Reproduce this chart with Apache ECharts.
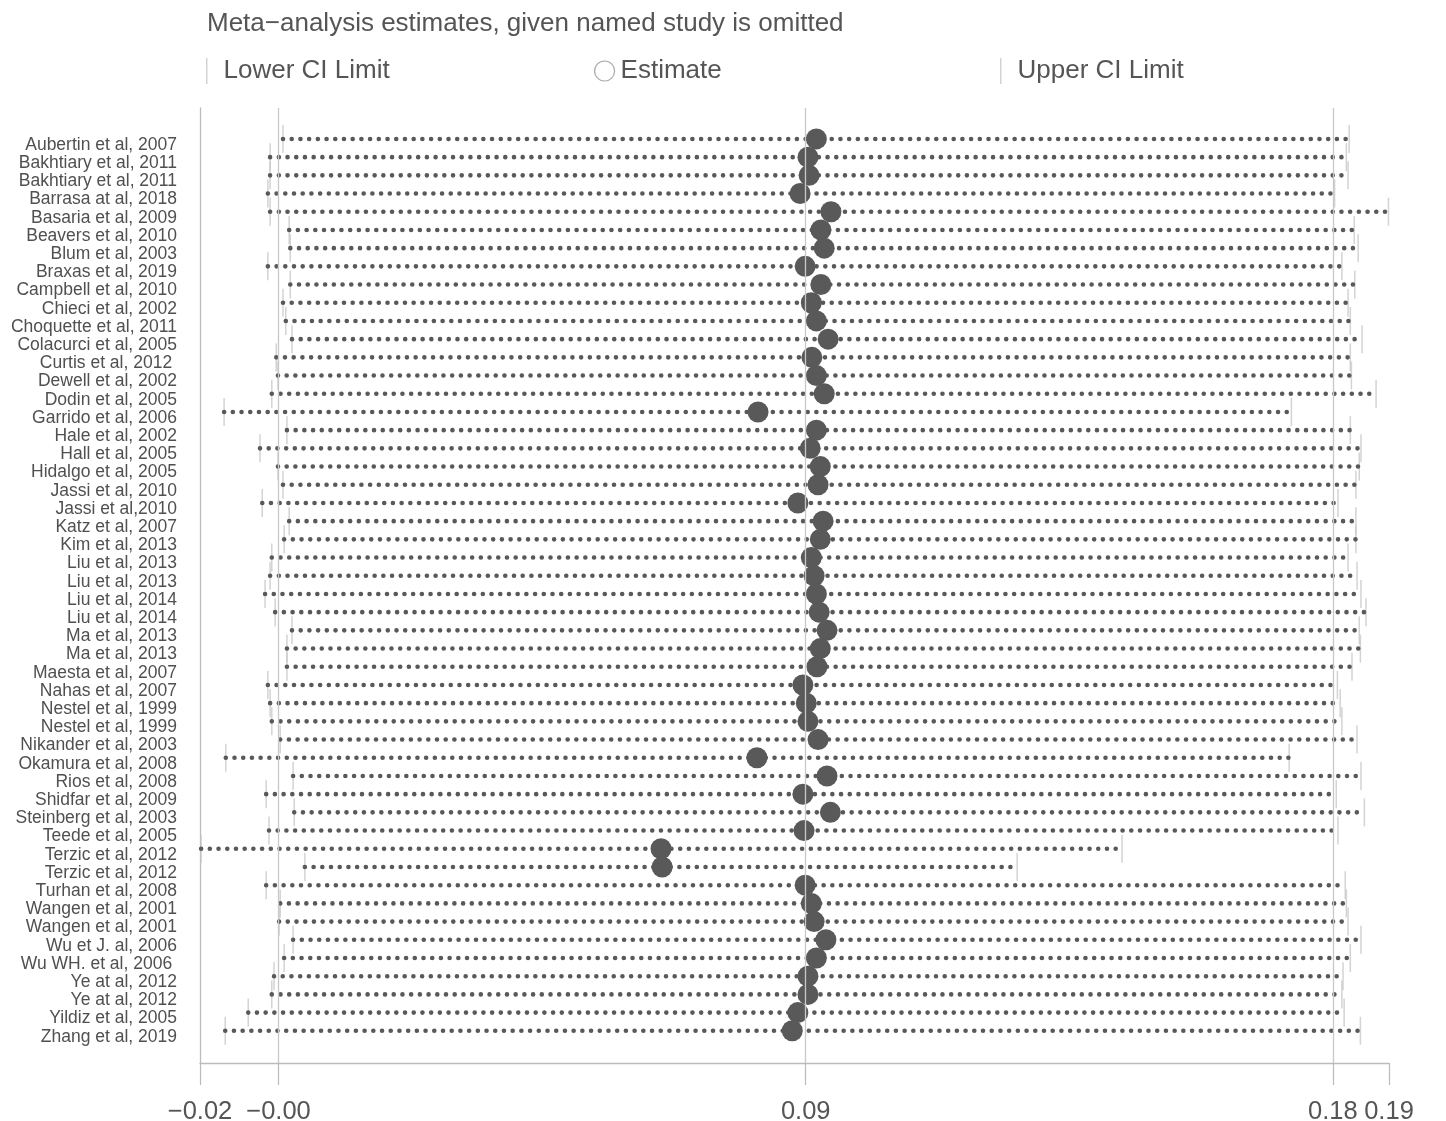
<!DOCTYPE html>
<html>
<head>
<meta charset="utf-8">
<script src="https://cdn.jsdelivr.net/npm/echarts@6/dist/echarts.min.js"></script>
<style>
html,body{margin:0;padding:0;background:#fff;}
#chart{width:1446px;height:1121px;}
</style>
</head>
<body>
<div id="chart"></div>
<script>
// ---- data ----
const studies = [
  "Aubertin et al, 2007","Bakhtiary et al, 2011","Bakhtiary et al, 2011","Barrasa at al, 2018",
  "Basaria et al, 2009","Beavers et al, 2010","Blum et al, 2003","Braxas et al, 2019",
  "Campbell et al, 2010","Chieci et al, 2002","Choquette et al, 2011","Colacurci et al, 2005",
  "Curtis et al, 2012 ","Dewell et al, 2002","Dodin et al, 2005","Garrido et al, 2006",
  "Hale et al, 2002","Hall et al, 2005","Hidalgo et al, 2005","Jassi et al, 2010",
  "Jassi et al,2010","Katz et al, 2007","Kim et al, 2013","Liu et al, 2013",
  "Liu et al, 2013","Liu et al, 2014","Liu et al, 2014","Ma et al, 2013",
  "Ma et al, 2013","Maesta et al, 2007","Nahas et al, 2007","Nestel et al, 1999",
  "Nestel et al, 1999","Nikander et al, 2003","Okamura et al, 2008","Rios et al, 2008",
  "Shidfar et al, 2009","Steinberg et al, 2003","Teede et al, 2005","Terzic et al, 2012",
  "Terzic et al, 2012","Turhan et al, 2008","Wangen et al, 2001","Wangen et al, 2001",
  "Wu et J. al, 2006","Wu WH. et al, 2006 ","Ye at al, 2012","Ye at al, 2012",
  "Yildiz et al, 2005","Zhang et al, 2019"
];
const estimate = [
  0.0919,0.0904,0.0906,0.0890,0.0945,0.0927,0.0933,0.0899,
  0.0927,0.0910,0.0919,0.0940,0.0911,0.0919,0.0933,0.0815,
  0.0919,0.0908,0.0926,0.0922,0.0886,0.0931,0.0926,0.0910,
  0.0915,0.0919,0.0924,0.0938,0.0926,0.0920,0.0895,0.0901,
  0.0904,0.0922,0.0813,0.0938,0.0895,0.0944,0.0897,0.0642,
  0.0644,0.0899,0.0910,0.0915,0.0936,0.0919,0.0904,0.0904,
  0.0886,0.0876
];
const lowerCI = [
  -0.0032,-0.0055,-0.0055,-0.0059,-0.0055,-0.0021,-0.0019,-0.0059,
  -0.0019,-0.0032,-0.0027,-0.0016,-0.0044,-0.0041,-0.0052,-0.0137,
  -0.0025,-0.0073,-0.0041,-0.0032,-0.0069,-0.0021,-0.0030,-0.0052,
  -0.0055,-0.0064,-0.0046,-0.0016,-0.0025,-0.0025,-0.0059,-0.0055,
  -0.0052,-0.0037,-0.0134,-0.0014,-0.0062,-0.0012,-0.0057,-0.0178,
  0.0007,-0.0062,-0.0037,-0.0039,-0.0014,-0.0030,-0.0048,-0.0052,
  -0.0094,-0.0135
];
const upperCI = [
  0.1869,0.1864,0.1867,0.1843,0.1939,0.1878,0.1885,0.1856,
  0.1879,0.1867,0.1871,0.1892,0.1871,0.1873,0.1917,0.1766,
  0.1871,0.1890,0.1887,0.1881,0.1849,0.1881,0.1881,0.1867,
  0.1883,0.1890,0.1899,0.1887,0.1889,0.1874,0.1848,0.1853,
  0.1856,0.1883,0.1762,0.1890,0.1846,0.1896,0.1849,0.1464,
  0.1277,0.1862,0.1864,0.1867,0.1890,0.1871,0.1858,0.1856,
  0.1860,0.1889
];
// overall pooled values (vertical reference lines) and axis ticks
const pooled = [-0.004, 0.090, 0.184];
const tickValues = [-0.018, -0.004, 0.090, 0.184, 0.194];
const tickLabels = ["\u22120.02", "\u22120.00", "0.09", "0.18", "0.19"];
const titleText = "Meta\u2212analysis estimates, given named study is omitted";

// ---- chart ----
const rowIdx = studies.map((_, i) => i);
const segData = rowIdx.map(i => [lowerCI[i], upperCI[i], i]);
const lowData = rowIdx.map(i => [lowerCI[i], i]);
const upData = rowIdx.map(i => [upperCI[i], i]);
const estData = rowIdx.map(i => [estimate[i], i]);

const textCol = '#555555';
const markCol = '#595959';
const lightCol = '#c8c8c8';
const FONT = 'Liberation Sans, Arial, sans-serif';

const chart = echarts.init(document.getElementById('chart'), null, {renderer: 'canvas'});
chart.setOption({
  backgroundColor: '#ffffff',
  animation: false,
  textStyle: {fontFamily: FONT},
  title: {
    text: titleText, left: 207, top: 11, padding: 0,
    textStyle: {fontSize: 26, fontWeight: 'normal', color: textCol, fontFamily: FONT}
  },
  legend: [
    {data: [{name: 'Lower CI Limit', icon: 'rect'}], left: 206, top: 58, padding: 0,
     itemWidth: 1.5, itemHeight: 26,
     textStyle: {fontSize: 26, color: textCol, padding: [0, 0, 0, 11], fontFamily: FONT}},
    {data: [{name: 'Estimate', icon: 'circle', itemStyle: {color: '#ffffff', borderColor: '#aaaaaa', borderWidth: 1.2}}],
     left: 594, top: 58, padding: 0, itemWidth: 20, itemHeight: 20,
     textStyle: {fontSize: 26, color: textCol, padding: [0, 0, 0, 1], fontFamily: FONT}},
    {data: [{name: 'Upper CI Limit', icon: 'rect'}], left: 1000, top: 58, padding: 0,
     itemWidth: 1.5, itemHeight: 26,
     textStyle: {fontSize: 26, color: textCol, padding: [0, 0, 0, 11], fontFamily: FONT}}
  ],
  grid: {left: 200, right: 57, top: 108, bottom: 58, containLabel: false, outerBoundsMode: 'none'},
  xAxis: {
    type: 'value', min: tickValues[0], max: tickValues[tickValues.length - 1],
    axisLine: {show: true, onZero: false, lineStyle: {color: '#bbbbbb', width: 1.3}},
    axisTick: {show: true, customValues: tickValues, length: 22, lineStyle: {color: '#bbbbbb', width: 1.2}},
    axisLabel: {
      show: true, customValues: tickValues, margin: 36, fontSize: 25.5, color: textCol, fontFamily: FONT,
      hideOverlap: false,
      formatter: function (v) {
        let best = 0, d = Infinity;
        tickValues.forEach((t, k) => { const dd = Math.abs(t - v); if (dd < d) { d = dd; best = k; } });
        return tickLabels[best];
      }
    },
    splitLine: {show: false}
  },
  yAxis: {
    type: 'value', inverse: true, min: -1.7, max: 50.77,
    axisLine: {show: true, onZero: false, lineStyle: {color: '#bbbbbb', width: 1.3}},
    axisTick: {show: false},
    splitLine: {show: false},
    axisLabel: {
      show: true, customValues: rowIdx, margin: 23, fontSize: 17.5, color: '#505050', fontFamily: FONT,
      verticalAlign: 'top', lineHeight: 12,
      formatter: function (v) { return studies[Math.round(v)] || ''; }
    }
  },
  series: [
    {
      name: 'Lower CI Limit', type: 'scatter', data: lowData, z: 2,
      symbol: 'rect', symbolSize: [1.5, 28], itemStyle: {color: lightCol}, silent: true,
      markLine: {
        silent: true, symbol: ['none', 'none'], label: {show: false}, precision: 6,
        lineStyle: {color: lightCol, type: 'solid', width: 1.3},
        data: pooled.map(v => ({xAxis: v}))
      }
    },
    {
      name: 'Upper CI Limit', type: 'scatter', data: upData, z: 2,
      symbol: 'rect', symbolSize: [1.5, 28], itemStyle: {color: lightCol}, silent: true
    },
    {
      name: 'CI', type: 'custom', data: segData, z: 3, silent: true,
      encode: {x: [0, 1], y: 2},
      renderItem: function (params, api) {
        const p0 = api.coord([api.value(0), api.value(2)]);
        const p1 = api.coord([api.value(1), api.value(2)]);
        return {
          type: 'line',
          shape: {x1: p0[0], y1: p0[1], x2: p1[0], y2: p1[1]},
          style: {stroke: markCol, lineWidth: 4.6, lineCap: 'round', lineDash: [0.01, 8.7], fill: null}
        };
      }
    },
    {
      name: 'Estimate', type: 'scatter', data: estData, z: 4,
      symbol: 'circle', symbolSize: 21, itemStyle: {color: markCol, opacity: 1}, silent: true
    }
  ]
});
</script>
</body>
</html>
